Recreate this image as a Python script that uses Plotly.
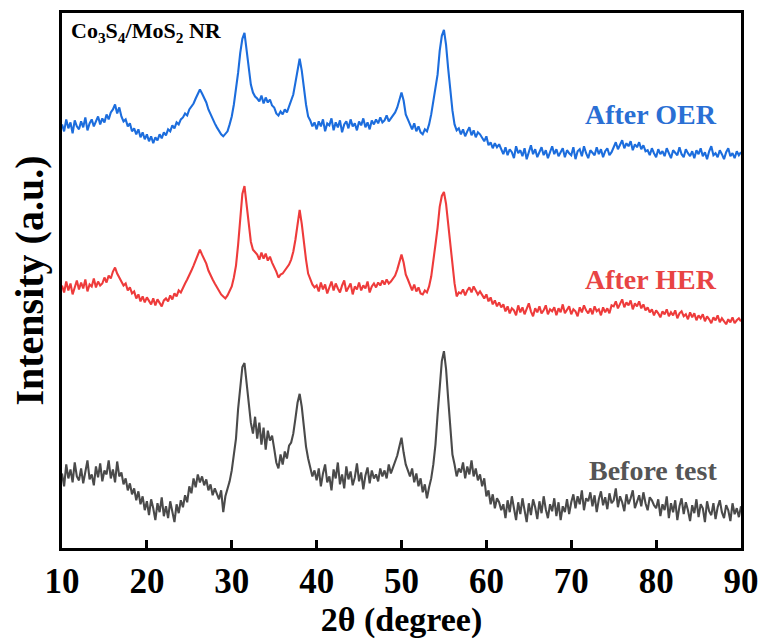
import plotly.graph_objects as go

# 2-theta scan: 10.00 .. 90.00 deg, step 0.25 deg
two_theta_start = 10.0
two_theta_step = 0.25

# Intensities (a.u., stacked as plotted)
after_oer = [
    426,419,431,422,428,417,430,424,421,          # 10.00-12.00
    429,423,433,420,427,431,424,429,              # 12.25-14.00
    434,426,432,428,436,431,438,                  # 14.25-15.75
    441,446,437,443,                              # 16.00-16.75
    434,429,431,424,427,419,                      # 17.00-18.25
    422,416,421,413,418,411,416,                  # 18.50-20.00
    409,414,407,413,410,416,412,418,              # 20.25-22.00
    415,421,419,425,422,428,426,431,              # 22.25-24.00
    433,437,435,441,444,                          # 24.25-25.25
    447,452,456, 461,457,452,                     # 25.50-26.75
    448,441,436,431,427,                          # 27.00-28.00
    423,419,416,414, 416,419,426,                 # 28.25-29.75
    434,446,460,478, 498,512,518,500,             # 30.00-31.75
    480,466,458,454,                              # 32.00-32.75
    452,449,455,447,453,448,451,445,              # 33.00-34.75
    443,437,435,439, 436,441,438,444,             # 35.00-36.75
    448,456,468,482, 492,480,462,446,             # 37.00-38.75
    434,430,424,428,                              # 39.00-39.75
    421,429,424,431,419,427,425,432,420,428,
    423,430,418,426,429,422,431,424,427,420,
    429,425,432,423,428,421,430,426,              # 40.00-46.75
    431,427,433,428,430,435,429,432,436,438,      # 47.00-49.25
    443,451, 458,450, 436,431,                    # 49.50-50.75
    425,421,427,419,424,418,                      # 51.00-52.25
    416,421,419,426, 436,448,                     # 52.50-53.75
    460,476,500,515, 521,506, 482,458,            # 54.00-55.75
    440,426,420,422,                              # 56.00-56.75
    416,421,414,419,423,415,420,413,418,416,      # 57.00-59.25
    412,409,414,405,408,402,407,403,406,400,      # 59.50-61.75
    396,403,395,401,398,392,404,397,400,394,
    402,391,399,405,396,401,393,398,403,395,
    400,392,399,404,396,401,394,398,402,393,
    400,397,395,403,391,399,401,394,404,397,
    392,400,398,395,403,396,401,393,399,402,
    395,398,                                      # 62.00-74.75
    403,408,401,406,410,402,407,404,409,400,
    406,403,408,401,405,399,                      # 75.00-78.75
    400,395,402,397,393,401,396,399,394,402,
    397,392,400,398,395,403,396,393,401,397,
    394,399,392,400,396,402,394,398,391,399,
    404,395,397,393,400,396,391,398,402,394,
    397,392,399,395,398,                          # 79.00-90.00
]

after_her = [
    264,257,268,259,266,255,262,269,260,
    267,261,270,258,265,263,271,262,
    268,264,266,272,267,274,271,
    278,282,276,272,
    269,264,266,259,262,256,
    258,251,255,248,253,247,252,
    249,245,251,244,250,247,243,249,
    251,248,254,250,256,253,259,257,
    262,266,270,274,279,
    284,290,294, 300,295,290,
    286,279,274,270,266,
    262,258,255,253, 251,254,258,
    263,272,284,305, 333,356,364,344,
    322,308,300,297,
    295,290,297,291,296,289,293,287,
    283,278,272,275, 276,279,282,285,
    290,298,310,327, 340,326,306,290,
    276,270,265,262,
    264,258,267,260,265,256,263,268,259,266,
    261,257,264,269,258,262,266,255,263,260,
    267,259,264,261,268,257,263,266,
    262,267,264,269,265,270,266,268,271,274,
    280,288, 295,287, 275,270,
    264,259,265,258,262,256,
    255,259,257,263, 273,287,
    305,322,343,354, 358,346, 326,302,
    282,266,253,257,
    256,260,254,259,262,257,263,259,255,258,
    254,251,255,248,252,245,249,243,247,242,
    245,238,243,236,241,239,234,244,237,242,
    235,240,246,238,233,241,237,243,236,239,
    244,235,240,238,242,234,241,237,245,236,
    239,243,235,240,238,233,242,237,244,239,
    236,241,235,243,238,240,234,242,237,241,
    236,244,
    243,248,241,246,250,242,247,244,249,240,
    246,243,248,241,245,239,
    242,237,240,234,239,236,232,238,235,240,
    233,237,234,239,231,236,238,233,235,230,
    237,232,236,229,234,231,235,228,233,230,
    226,232,229,234,227,231,228,225,230,227,
    232,226,229,231,228,
]

before_test = [
    75,62,84,70,79,66,86,72,68,
    80,65,77,88,69,74,63,82,
    71,85,67,78,74,88,70,
    79,66,87,72,
    76,64,70,58,65,54,
    60,48,57,44,52,38,47,
    33,49,40,28,45,36,51,32,
    42,30,47,38,26,44,35,48,
    41,53,46,62,55,
    70,61,74, 66,72,63,
    69,58,64,53,60,
    55,49,58,36, 52,60,67,
    78,92,110,140, 163,182,186,166,
    146,126,115,132,
    110,126,104,121,99,118,108,113,
    100,86,80,94, 84,97,90,103,
    106,115,130,146, 155,142,122,102,
    90,80,72,78,
    68,80,62,75,84,66,72,58,79,70,
    86,64,74,60,82,69,77,63,71,85,
    67,76,59,73,81,65,78,70,
    74,67,80,72,78,70,84,75,81,86,
    93,102, 111,96, 84,78,
    72,80,66,75,62,70,
    56,64,50,61, 70,84,
    104,134,166,188, 198,180, 150,120,
    94,84,72,80,
    76,86,70,82,74,88,72,80,68,74,
    62,70,52,58,44,54,40,50,46,38,
    44,30,48,36,52,40,28,46,34,50,
    38,26,45,33,49,41,29,47,35,52,
    39,30,44,37,50,32,46,28,42,36,
    49,34,
    46,54,40,52,44,58,38,50,47,56,
    42,53,36,49,57,43,51,39,55,45,
    48,60,41,52,46,37,54,44,50,58,
    40,47,53,42,56,45,38,51,48,43,
    40,49,32,44,38,52,30,45,36,48,
    28,42,50,34,46,38,27,43,35,49,
    31,44,40,26,47,37,33,45,29,41,
    48,36,30,43,38,27,45,34,40,31,
    42,
]

series_names = ["After OER", "After HER", "Before test"]
x_ticks = [10, 20, 30, 40, 50, 60, 70, 80, 90]
x_title = "2θ (degree)"
y_title = "Intensity (a.u.)"
sample_label = "Co<sub>3</sub>S<sub>4</sub>/MoS<sub>2</sub> NR"

colors = ["#1c6ddd", "#ee3b3b", "#4a4a4a"]
label_colors = ["#2a6fd4", "#e84444", "#555555"]
FONT = "Times New Roman, Liberation Serif, serif"

def angles(n):
    return [two_theta_start + two_theta_step * i for i in range(n)]

fig = go.Figure()
for name, vals, col in zip(series_names, [after_oer, after_her, before_test], colors):
    fig.add_trace(go.Scatter(x=angles(len(vals)), y=vals, mode="lines", name=name,
                             line=dict(color=col, width=2.1), showlegend=False))

label_pos = [0.810, 0.502, 0.145]
for name, yp, col in zip(series_names, label_pos, label_colors):
    fig.add_annotation(text="<b>%s</b>" % name, xref="paper", yref="paper",
                       x=0.968, y=yp, xanchor="right", yanchor="middle",
                       showarrow=False, font=dict(family=FONT, size=28, color=col))

fig.add_annotation(text="<b>%s</b>" % sample_label, xref="paper", yref="paper",
                   x=0.010, y=0.965, xanchor="left", yanchor="middle",
                   showarrow=False, font=dict(family=FONT, size=22, color="black"))

fig.update_layout(
    width=769, height=642,
    margin=dict(l=62, r=24, t=10, b=94),
    paper_bgcolor="white", plot_bgcolor="white",
    font=dict(family=FONT, color="black"),
)
fig.update_xaxes(range=[10, 90], tickvals=x_ticks, ticktext=[str(t) for t in x_ticks],
                 ticks="inside", ticklen=8, tickwidth=2.5, tickcolor="black",
                 showline=True, linewidth=3, linecolor="black", mirror=True,
                 showgrid=False, zeroline=False,
                 tickfont=dict(family=FONT, size=35, color="black", weight="bold"),
                 title=dict(text=x_title, standoff=4,
                            font=dict(family=FONT, size=34, color="black", weight="bold")))
fig.update_yaxes(range=[0, 538], showticklabels=False, ticks="",
                 showline=True, linewidth=3, linecolor="black", mirror=True,
                 showgrid=False, zeroline=False,
                 title=dict(text=y_title, standoff=4,
                            font=dict(family=FONT, size=40, color="black", weight="bold")))

fig.write_html("out.html")
